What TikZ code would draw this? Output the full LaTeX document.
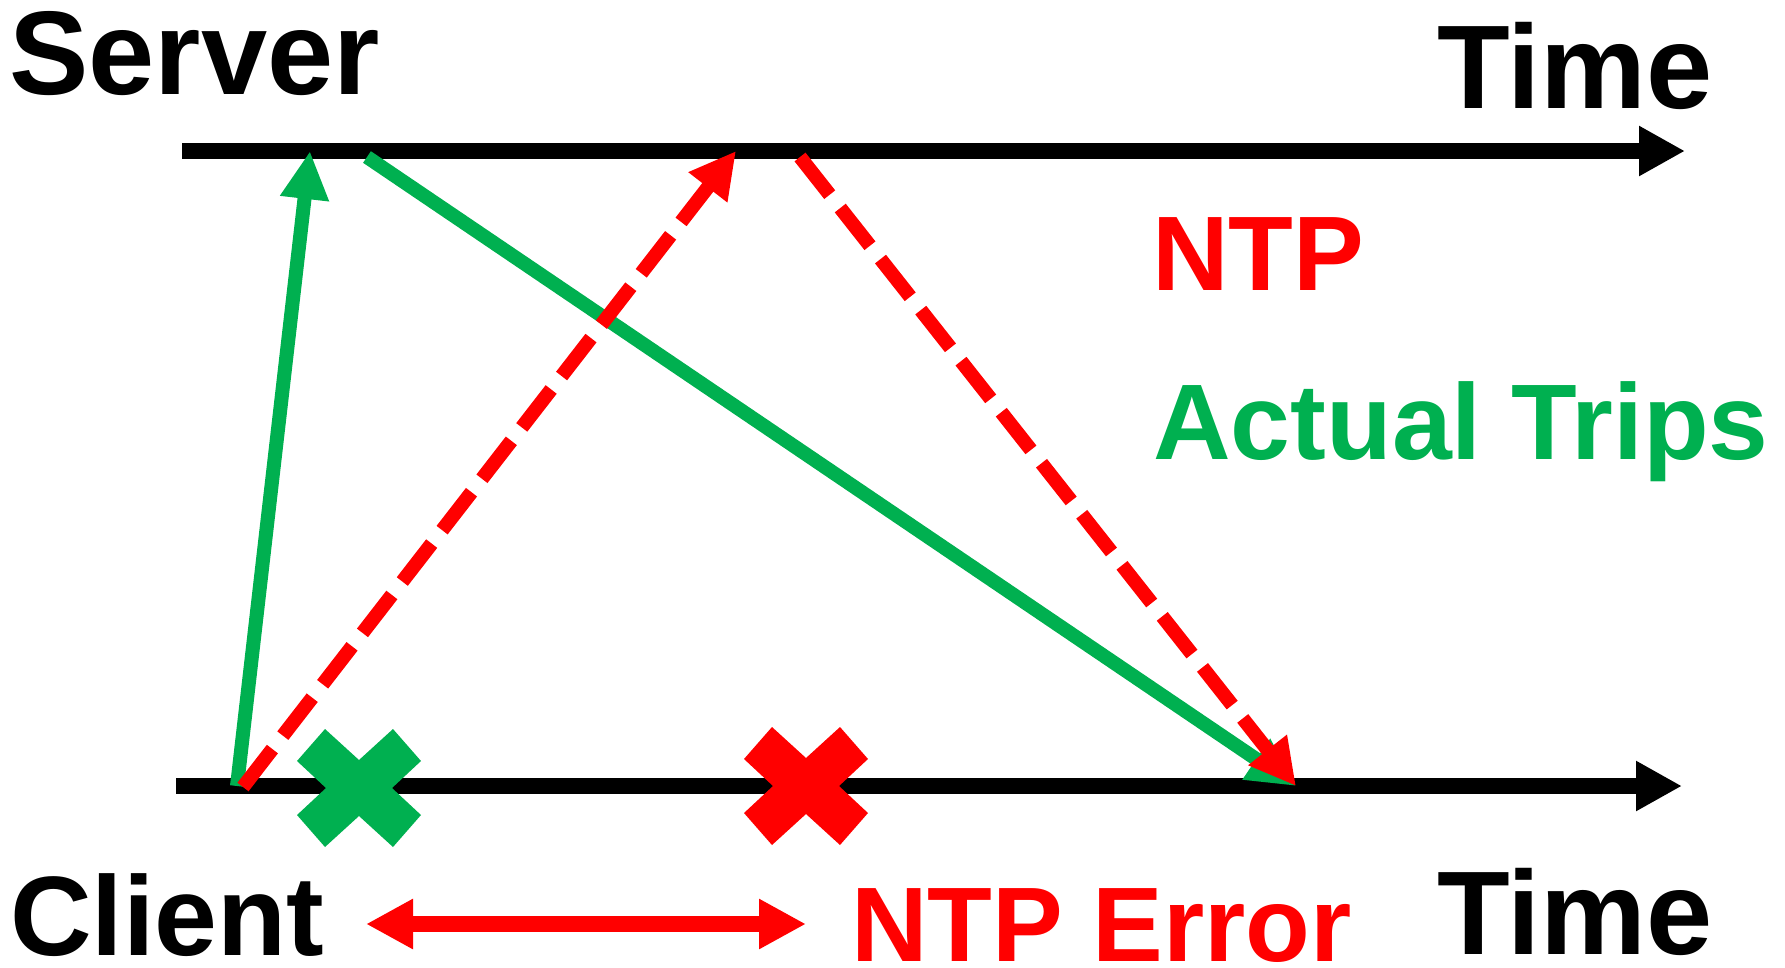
\documentclass[tikz,border=0pt]{standalone}
\usepackage{fontspec}
\setmainfont{Liberation Sans}
\usetikzlibrary{arrows.meta}
\definecolor{ggreen}{RGB}{0,176,80}
\definecolor{rred}{RGB}{255,0,0}
\tikzset{
  timeaxis/.style={draw=black, line width=16pt, -{Triangle[length=46pt,width=47pt]}},
  gtrip/.style={draw=ggreen, line width=14pt, -{Triangle[length=48pt,width=46pt]}},
  ntptrip/.style={draw=rred, line width=14pt, dash pattern=on 48pt off 17pt, -{Triangle[length=46pt,width=46pt]}},
  errarrow/.style={draw=rred, line width=16pt, {Triangle[length=47pt,width=47pt]}-{Triangle[length=47pt,width=47pt]}},
  biglabel/.style={font=\bfseries\fontsize{119pt}{119pt}\selectfont, inner sep=0pt, anchor=base west},
  clientlabel/.style={font=\bfseries\fontsize{113pt}{113pt}\selectfont, inner sep=0pt, anchor=base west},
  midlabel/.style={font=\bfseries\fontsize{106pt}{106pt}\selectfont, inner sep=0pt, anchor=base west},
  xmark/.pic={\fill (-62,-27) -- (-34,-59) -- (0,-28) -- (34,-59) -- (62,-27) -- (33,0)
     -- (62,27) -- (34,59) -- (0,28) -- (-34,59) -- (-62,27) -- (-33,0) -- cycle;}
}
\begin{document}
\begin{tikzpicture}[x=1pt,y=-1pt]
\useasboundingbox (0,0) rectangle (1785,967);
% axes
\coordinate (sL) at (182,151);
\coordinate (sR) at (1685,151);
\coordinate (cL) at (176,786);
\coordinate (cR) at (1682,786);
\draw[timeaxis] (sL) -- (sR);
\draw[timeaxis] (cL) -- (cR);
% labels
\node[biglabel] (server) at (9,94) {Server};
\node[biglabel] (timeS) at (1437,108) {Time};
\node[clientlabel] (client) at (10,955) {Client};
\node[biglabel] (timeC) at (1437,954) {Time};
\node[midlabel, text=rred] (ntp) at (1152,290) {NTP};
\node[midlabel, text=ggreen, font=\bfseries\fontsize{107.5pt}{107.5pt}\selectfont] (actual) at (1153,459) {Actual Trips};
\node[midlabel, text=rred] (ntperr) at (851,961) {NTP Error};
% actual trips
\coordinate (g1s) at (237,786);
\coordinate (g1e) at (310,151);
\coordinate (g2s) at (367,157);
\coordinate (g2e) at (1296,786);
\draw[gtrip] (g1s) -- (g1e);
\draw[gtrip] (g2s) -- (g2e);
% ntp trips
\coordinate (r1s) at (243,787);
\coordinate (r1e) at (736,151);
\coordinate (r2s) at (800,157);
\coordinate (r2e) at (1296,786);
\draw[ntptrip] (r1s) -- (r1e);
\draw[ntptrip] (r2s) -- (r2e);
% crosses
\pic[color=ggreen] (gx) at (359,788) {xmark};
\pic[color=rred] (rx) at (806,786) {xmark};
% error span
\coordinate (eL) at (366,924);
\coordinate (eR) at (806,924);
\draw[errarrow] (eL) -- (eR);
\end{tikzpicture}
\end{document}
